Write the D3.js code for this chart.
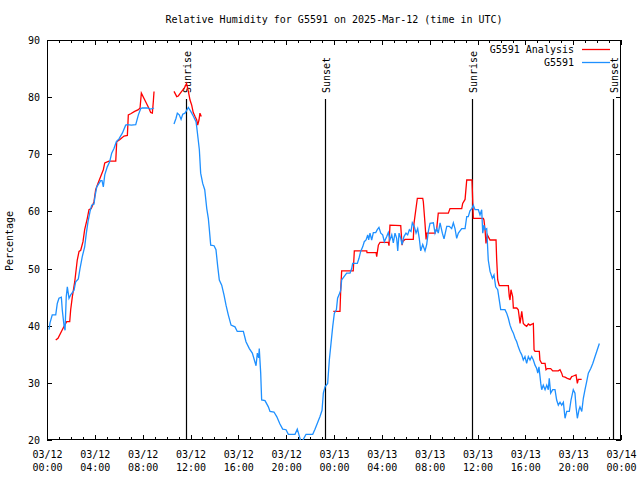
<!DOCTYPE html>
<html>
<head>
<meta charset="utf-8">
<script src="https://cdn.jsdelivr.net/npm/d3@7"></script>
<style>
  html, body { margin: 0; padding: 0; background: #fff; }
  svg { display: block; }
  text { font-family: "DejaVu Sans Mono", "Liberation Mono", monospace; font-size: 10px; fill: #000; }
</style>
</head>
<body>
<svg id="chart" width="640" height="480"></svg>
<script>
// ---- Data (hours since 2025-03-12 00:00 UTC) ----
const obsHours = [0.17,0.25,0.44,0.73,0.86,1.0,1.2,1.28,1.42,1.51,1.61,1.70,1.84,1.98,2.26,2.40,2.62,2.76,2.95,3.15,3.29,3.43,3.60,3.74,3.93,4.01,4.16,4.35,4.49,4.60,4.71,4.83,5.04,5.24,5.41,5.60,5.80,6.02,6.30,6.58,6.72,7.05,7.42,7.64,7.84,7.97,8.39,8.67,8.95,
  9.8,
  10.62,10.79,10.90,11.06,11.21,11.35,11.54,11.82,12.02,12.23,12.46,12.52,12.63,12.74,12.85,13.02,13.19,13.36,13.49,13.57,13.69,13.97,14.13,14.28,14.41,14.61,14.80,14.97,15.16,15.39,15.72,15.91,16.42,16.64,16.92,17.17,17.34,17.48,17.59,17.70,17.75,17.87,17.95,18.23,18.51,18.65,18.98,19.21,19.48,19.71,19.99,20.18,20.74,20.93,21.07,21.22,21.38,21.66,22.22,22.41,22.60,22.83,23.00,23.11,23.25,23.47,23.61,23.75,23.89,24.03,24.20,24.30,24.42,24.56,24.64,24.84,25.06,25.34,25.48,25.56,25.95,26.09,26.23,26.40,26.53,26.68,26.82,26.90,27.01,27.15,27.29,27.49,27.62,27.76,27.91,28.07,28.21,28.41,28.54,28.68,28.83,28.96,29.10,29.24,29.33,29.44,29.58,29.69,29.85,30.02,30.16,30.30,30.44,30.55,30.72,30.86,31.00,31.13,31.25,31.42,31.61,31.75,31.89,32.03,32.31,32.45,32.59,32.72,32.87,33.06,33.20,33.43,33.64,33.84,33.98,34.12,34.26,34.40,34.68,34.96,35.10,35.23,35.37,35.52,35.60,35.65,35.79,36.07,36.21,36.35,36.44,36.54,36.63,36.77,36.90,37.05,37.24,37.38,37.52,37.69,37.80,37.94,38.30,38.44,38.58,38.72,38.86,39.00,39.14,39.28,39.41,39.56,39.70,39.83,39.97,40.11,40.25,40.39,40.53,40.67,40.81,40.95,41.04,41.14,41.29,41.37,41.50,41.65,41.79,41.92,42.00,42.12,42.29,42.48,42.62,42.76,42.90,43.04,43.18,43.32,43.46,43.68,43.82,44.01,44.15,44.24,44.35,44.49,44.57,44.72,44.85,44.99,45.13,45.27,45.47,45.64,45.83,45.97,46.19];
const obsRH = [39.3,40.5,41.9,41.9,43.9,44.8,45.0,42.7,40.1,39.2,45.1,46.8,44.8,45.4,46.2,47.7,48.2,50.0,52.1,53.8,56.2,58.2,60.0,61.1,61.3,62.6,64.3,64.9,65.4,65.4,64.3,66.4,67.8,68.7,70.2,71.0,72.2,72.7,73.7,75.1,75.2,75.1,75.2,76.9,78.0,78.1,78.1,77.9,78.1,
  null,
  75.3,76.3,77.2,76.9,76.1,77.0,77.2,78.2,77.5,76.7,75.7,74.8,72.8,70.8,66.7,64.9,63.8,60.5,58.8,57.0,54.1,54.0,53.3,50.3,48.0,47.1,45.4,43.6,41.9,40.1,39.8,39.0,39.0,37.2,36.0,35.2,34.0,33.0,35.2,34.4,36.0,31.7,27.0,26.9,25.8,25.0,24.9,24.1,22.8,21.9,21.8,21.0,21.0,21.9,20.9,19.8,19.9,21.0,21.0,21.9,22.9,24.1,25.2,28.2,29.3,29.9,34.0,36.9,39.8,42.2,42.8,44.8,45.4,46.2,48.0,48.6,49.2,49.2,50.0,50.9,50.9,51.8,53.0,53.8,54.7,55.0,55.9,55.0,56.2,55.0,56.3,56.3,56.8,57.2,56.2,55.9,54.7,55.6,56.3,55.0,55.9,54.5,56.2,55.3,53.1,56.2,55.3,54.2,55.6,56.2,55.9,56.8,56.5,58.0,57.3,56.2,57.0,55.3,53.1,54.2,53.1,54.2,56.5,57.9,58.0,56.2,57.0,56.2,58.0,56.2,55.2,57.4,57.4,57.0,58.0,57.0,55.3,56.2,57.0,57.0,59.1,59.1,60.1,60.5,60.8,61.1,60.3,60.3,59.4,60.3,56.2,57.6,56.8,57.0,51.5,49.5,48.3,48.9,46.8,46.3,44.8,42.8,42.8,42.2,41.3,40.1,39.3,38.7,37.8,37.2,36.3,35.5,34.9,34.0,34.6,33.4,34.6,34.0,34.6,34.0,33.1,32.5,31.7,32.8,29.9,28.8,29.6,28.8,29.6,28.8,30.8,28.2,28.8,28.8,27.0,26.1,26.6,26.1,26.6,23.8,25.0,25.0,27.0,28.8,28.2,25.8,23.8,25.3,25.8,25.0,27.3,28.8,30.2,31.7,32.5,33.4,34.6,35.5,36.9];

const anaHours = [0.73,0.92,1.28,1.48,1.65,1.90,1.98,2.12,2.32,2.53,2.68,2.82,3.01,3.15,3.37,3.51,3.70,3.93,4.07,4.26,4.49,4.71,4.83,5.18,5.75,5.83,6.10,6.44,6.72,6.80,7.00,7.33,7.64,7.78,7.89,8.25,8.53,8.67,8.81,8.89,8.95,
  9.8,
  10.62,10.85,10.98,11.26,11.46,11.67,11.82,11.96,12.10,12.23,12.38,12.52,12.60,12.71,12.79,12.90,
  18.0,
  23.94,24.50,24.56,24.64,25.61,25.70,26.74,26.76,27.52,27.57,27.71,27.85,28.54,28.60,28.68,29.58,29.69,29.77,29.94,30.63,30.69,30.97,31.42,31.47,31.61,31.70,31.75,32.45,32.59,32.72,33.56,33.70,34.68,34.76,34.96,35.10,35.54,35.65,36.49,36.54,36.63,36.71,36.82,37.05,37.55,37.60,37.69,37.82,38.58,38.66,38.72,38.80,38.94,39.00,39.28,39.41,39.56,39.70,39.83,39.97,40.11,40.25,40.39,40.67,40.73,40.81,41.17,41.22,41.37,41.65,41.73,41.84,42.12,42.29,42.76,42.90,43.04,43.13,43.32,43.51,43.74,43.88,44.01,44.24,44.35,44.43,44.71];
const anaRH = [37.5,37.8,39.3,40.1,40.7,40.7,42.8,45.1,47.7,51.5,53.0,53.2,54.7,56.8,58.8,60.3,60.5,61.7,63.8,64.9,66.1,67.3,68.5,68.8,68.8,72.2,72.6,73.2,73.3,76.9,77.1,77.5,77.8,78.1,80.7,79.2,78.0,77.3,77.2,79.2,81.0,
  null,
  81.0,80.1,80.2,81.0,81.5,82.4,81.0,79.5,78.6,77.3,76.6,76.0,75.1,76.0,77.2,76.6,
  null,
  42.5,42.5,46.2,49.6,49.6,53.1,53.1,52.8,52.8,52.1,54.1,54.6,54.6,54.0,57.6,57.5,54.1,54.8,55.1,55.1,57.9,62.3,62.3,61.7,57.9,55.1,56.2,56.2,57.0,59.7,59.7,60.5,60.5,61.4,62.1,65.5,65.5,58.8,58.8,58.5,56.8,54.4,55.9,55.0,55.0,51.8,48.0,47.0,47.0,45.1,44.5,46.3,45.1,43.1,43.1,42.8,40.4,42.5,40.4,40.1,39.9,40.3,40.1,40.4,35.8,35.5,35.5,34.0,33.4,33.4,32.3,32.5,32.5,32.1,32.1,32.3,31.7,31.1,31.0,30.8,30.6,31.1,31.2,31.4,29.9,30.6,30.6];

const sunEventHours = [11.6, 23.27, 35.57, 47.32];
const sunEventLabels = ["Sunrise", "Sunset", "Sunrise", "Sunset"];
const seriesNames = ["G5591 Analysis", "G5591"];
const seriesColors = ["#ff0000", "#1e90ff"];
const yTicks = [20, 30, 40, 50, 60, 70, 80, 90];
const titleText = "Relative Humidity for G5591 on 2025-Mar-12 (time in UTC)";
const yLabel = "Percentage";

// ---- Layout ----
const W = 640, H = 480;
const L = 47, R = 621, T = 40, B = 440;
const t0 = Date.UTC(2025, 2, 12, 0, 0);
const toDate = h => new Date(t0 + h * 3600 * 1000);

const svg = d3.select("#chart");
const x = d3.scaleUtc().domain([toDate(0), toDate(48)]).range([L, R]);
const y = d3.scaleLinear().domain([20, 90]).range([B, T]);

svg.append("defs").append("clipPath").attr("id", "clip")
  .append("rect").attr("x", L).attr("y", T).attr("width", R - L).attr("height", B - T);

// Title
svg.append("text").attr("x", 334).attr("y", 23).attr("text-anchor", "middle").text(titleText);

// Axes
const fmtDay = d3.utcFormat("%m/%d"), fmtHM = d3.utcFormat("%H:%M");
const major = x.ticks(d3.utcHour.every(4));
const minor = x.ticks(d3.utcHour.every(1));

const gMinB = svg.append("g").attr("transform", `translate(0,${B})`)
  .call(d3.axisBottom(x).tickValues(minor).tickSize(-3).tickFormat(""));
const gMinT = svg.append("g").attr("transform", `translate(0,${T})`)
  .call(d3.axisTop(x).tickValues(minor).tickSize(-3).tickFormat(""));
const gB = svg.append("g").attr("transform", `translate(0,${B})`)
  .call(d3.axisBottom(x).tickValues(major).tickSize(-5).tickSizeOuter(0));
const gT = svg.append("g").attr("transform", `translate(0,${T})`)
  .call(d3.axisTop(x).tickValues(major).tickSize(-5).tickSizeOuter(0).tickFormat(""));
const gL = svg.append("g").attr("transform", `translate(${L},0)`)
  .call(d3.axisLeft(y).tickValues(yTicks).tickSize(-5).tickSizeOuter(0).tickPadding(7));
const gR = svg.append("g").attr("transform", `translate(${R},0)`)
  .call(d3.axisRight(y).tickValues(yTicks).tickSize(-5).tickSizeOuter(0).tickFormat(""));

[gMinB, gMinT, gB, gT, gL, gR].forEach(g => {
  g.attr("font-family", null).attr("font-size", null);
  g.selectAll(".domain").remove();
  g.selectAll("line").attr("stroke", "#000").attr("shape-rendering", "crispEdges");
});
gL.selectAll("text").attr("fill", "#000").attr("dy", "0.35em");
gB.selectAll("text").each(function(d) {
  const t = d3.select(this).attr("fill", "#000").attr("y", null).attr("dy", null).text(null);
  t.append("tspan").attr("x", 0).attr("y", 18).text(fmtDay(d));
  t.append("tspan").attr("x", 0).attr("y", 31).text(fmtHM(d));
});

// Frame
svg.append("rect").attr("x", L + 0.5).attr("y", T + 0.5).attr("width", R - L - 1).attr("height", B - T - 1)
  .attr("fill", "none").attr("stroke", "#000").attr("stroke-width", 1);

// Y label
svg.append("text").attr("transform", "translate(13,241) rotate(-90)").attr("text-anchor", "middle").text(yLabel);

// Sunrise / sunset
const sun = svg.append("g");
sunEventHours.forEach((h, i) => {
  const sx = Math.round(x(toDate(h))) + 0.5;
  sun.append("line").attr("x1", sx).attr("x2", sx).attr("y1", 99).attr("y2", B)
    .attr("stroke", "#000").attr("stroke-width", 1.2);
  sun.append("text").attr("transform", `translate(${sx + 4},93) rotate(-90)`)
    .attr("text-anchor", "start").text(sunEventLabels[i]);
});

// Lines
const plotG = svg.append("g").attr("clip-path", "url(#clip)");
const lineGen = d3.line()
  .defined(d => d[1] !== null)
  .x(d => x(toDate(d[0])))
  .y(d => y(d[1]));
const anaData = anaHours.map((h, i) => [h, anaRH[i]]);
const obsData = obsHours.map((h, i) => [h, obsRH[i]]);
plotG.append("path").datum(anaData).attr("d", lineGen)
  .attr("fill", "none").attr("stroke", seriesColors[0]).attr("stroke-width", 1.3);
plotG.append("path").datum(obsData).attr("d", lineGen)
  .attr("fill", "none").attr("stroke", seriesColors[1]).attr("stroke-width", 1.3);

// Legend
const leg = svg.append("g");
seriesNames.forEach((n, i) => {
  const ly = 49 + i * 13;
  leg.append("text").attr("x", 574).attr("y", ly + 4).attr("text-anchor", "end").text(n);
  leg.append("line").attr("x1", 582).attr("x2", 610).attr("y1", ly + 0.5).attr("y2", ly + 0.5)
    .attr("stroke", seriesColors[i]).attr("stroke-width", 1.3);
});
</script>
</body>
</html>
